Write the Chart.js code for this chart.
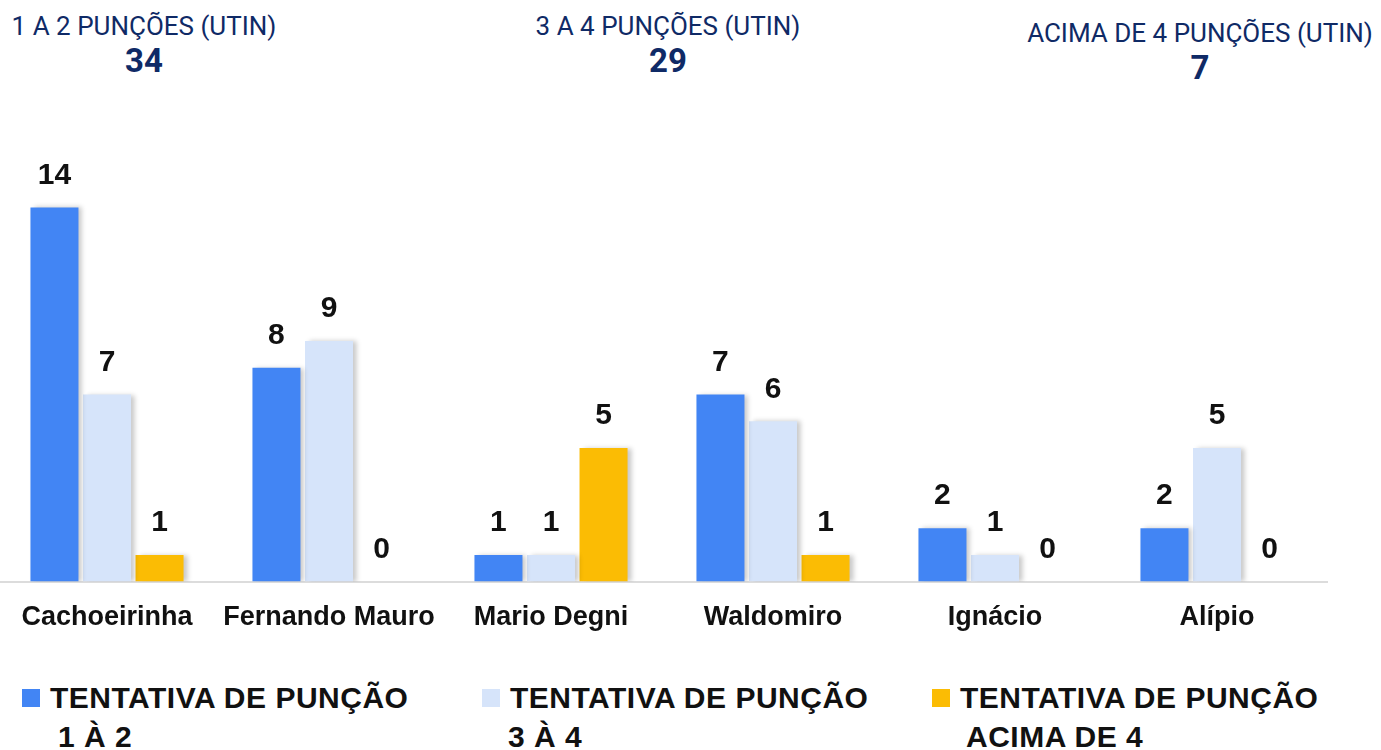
<!DOCTYPE html>
<html>
<head>
<meta charset="utf-8">
<script src="https://cdn.jsdelivr.net/npm/chart.js@4"></script>
<style>
  body { margin: 0; width: 1381px; height: 750px; background: #fff; position: relative; overflow: hidden; }
  .head { position: absolute; text-align: center; color: #0f2a66; font-family: Roboto, sans-serif; }
  .head .t { font-size: 26px; line-height: 30px; }
  .head .n { font-size: 33px; font-weight: bold; line-height: 40px; }
  #wrap { position: absolute; left: -4px; top: 124px; width: 1332px; height: 530px; }
  .legend { position: absolute; top: 678px; font-family: "Liberation Sans", Arial, sans-serif; font-weight: bold; font-size: 30px; line-height: 39px; color: #111; letter-spacing: 0.5px; }
  .legend .box { position: absolute; left: 0; top: 11px; width: 18px; height: 18px; }
  .legend .txt { margin-left: 28px; }
</style>
</head>
<body>
<div class="head" style="left:4px; top:11px; width:280px;"><div class="t">1 A 2 PUNÇÕES (UTIN)</div><div class="n">34</div></div>
<div class="head" style="left:528px; top:11px; width:280px;"><div class="t">3 A 4 PUNÇÕES (UTIN)</div><div class="n">29</div></div>
<div class="head" style="left:1020px; top:18px; width:360px;"><div class="t">ACIMA DE 4 PUNÇÕES (UTIN)</div><div class="n">7</div></div>

<div id="wrap"><canvas id="chart"></canvas></div>

<div class="legend" style="left:22px;"><div class="box" style="background:#4285f4"></div><div class="txt">TENTATIVA DE PUNÇÃO<div style="padding-left:8px">1 À 2</div></div></div>
<div class="legend" style="left:482px;"><div class="box" style="background:#d6e4fa"></div><div class="txt">TENTATIVA DE PUNÇÃO<div style="margin-left:-2px">3 À 4</div></div></div>
<div class="legend" style="left:932px;"><div class="box" style="background:#fbbc04"></div><div class="txt">TENTATIVA DE PUNÇÃO<div style="padding-left:6px">ACIMA DE 4</div></div></div>

<script>
const categories = ["Cachoeirinha", "Fernando Mauro", "Mario Degni", "Waldomiro", "Ignácio", "Alípio"];
const tentativa1a2 = [14, 8, 1, 7, 2, 2];
const tentativa3a4 = [7, 9, 1, 6, 1, 5];
const tentativaAcima4 = [1, 0, 5, 1, 0, 0];

const ctx = document.getElementById("chart").getContext("2d");

// shadow behind bars + value labels on top
const barExtras = {
    id: "barExtras",
    beforeDatasetsDraw(chart) {
        const c = chart.ctx;
        c.save();
        c.shadowColor = "rgba(0,0,0,0.22)";
        c.shadowBlur = 5;
        c.shadowOffsetX = 4;
        c.shadowOffsetY = 0;
    },
    afterDatasetsDraw(chart) {
        const c = chart.ctx;
        c.restore();
        c.save();
        c.font = "bold 30px 'Liberation Sans', Arial, sans-serif";
        c.fillStyle = "#111";
        c.textAlign = "center";
        c.textBaseline = "middle";
        chart.data.datasets.forEach((ds, i) => {
            const meta = chart.getDatasetMeta(i);
            meta.data.forEach((bar, j) => {
                c.fillText(ds.data[j], bar.x, bar.y - 32);
            });
        });
        c.restore();
    }
};

new Chart(ctx, {
    type: "bar",
    data: {
        labels: categories,
        datasets: [
            { label: "TENTATIVA DE PUNÇÃO 1 À 2", data: tentativa1a2, backgroundColor: "#4285f4" },
            { label: "TENTATIVA DE PUNÇÃO 3 À 4", data: tentativa3a4, backgroundColor: "#d6e4fa" },
            { label: "TENTATIVA DE PUNÇÃO ACIMA DE 4", data: tentativaAcima4, backgroundColor: "#fbbc04" },
        ],
    },
    options: {
        responsive: true,
        maintainAspectRatio: false,
        animation: false,
        categoryPercentage: 0.71,
        barPercentage: 0.914,
        layout: { padding: { top: 30, bottom: 0, left: 0, right: 0 } },
        plugins: {
            legend: { display: false },
            tooltip: { enabled: false },
        },
        scales: {
            x: {
                grid: { display: false, drawTicks: false },
                border: { display: true, color: "#dcdcdc", width: 2 },
                ticks: {
                    padding: 20,
                    color: "#111",
                    font: { family: "'Liberation Sans', Arial, sans-serif", size: 27, weight: "bold" },
                },
            },
            y: {
                display: false,
                min: 0,
                max: 16,
            },
        },
    },
    plugins: [barExtras],
});
</script>
</body>
</html>
